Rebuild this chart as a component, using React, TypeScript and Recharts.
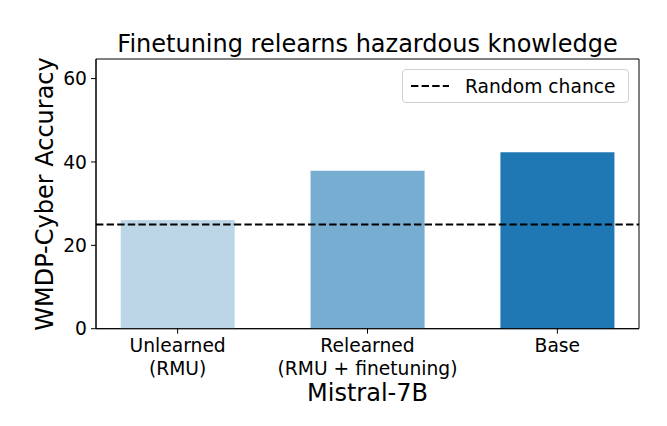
import { Bar, BarChart, Cell, Label, ReferenceArea, ReferenceLine, XAxis, YAxis } from 'recharts'

const categories = ['Unlearned\n(RMU)', 'Relearned\n(RMU + finetuning)', 'Base']
const accuracy = [26.1, 37.9, 42.3]
const barColors = ['#bcd6e8', '#78add2', '#1f77b4']
const randomChance = 25
const yTicks = [0, 20, 40, 60]

const FONT = "'DejaVu Sans', sans-serif"
const X_MIN = -0.43
const X_MAX = 2.43
const Y_MAX = 64.7

const data = categories.map((name, i) => ({ x: i, name, accuracy: accuracy[i] }))

function CategoryTick(props: any) {
  const { x, y, payload } = props
  const lines = String(categories[payload.value] ?? '').split('\n')
  return (
    <text x={x} y={y} textAnchor="middle" fontFamily={FONT} fontSize={18.7} fill="#000">
      {lines.map((line, i) => (
        <tspan key={i} x={x} dy={i === 0 ? 13.3 : 23}>{line}</tspan>
      ))}
    </text>
  )
}

function ChanceLegend() {
  return (
    <div style={{
      position: 'absolute', left: 402, top: 69,
      width: 225, height: 32, border: '1px solid #d0d0d0', borderRadius: 4,
      background: '#fff', display: 'flex', alignItems: 'center', boxSizing: 'content-box',
    }}>
      <svg width={60} height={32}>
        <line x1={8} x2={46} y1={16} y2={16} stroke="#000" strokeWidth={2} strokeDasharray="7.4 3.2" />
      </svg>
      <span style={{ fontFamily: FONT, fontSize: 18.7, color: '#000', marginLeft: 2 }}>Random chance</span>
    </div>
  )
}

export default function App() {
  return (
    <div style={{ position: 'absolute', left: 0, top: 0, width: 667, height: 426, background: '#fff' }}>
      <BarChart
        width={667}
        height={426}
        data={data}
        margin={{ top: 59, right: 28, bottom: 0, left: 0 }}
      >
        <XAxis
          dataKey="x"
          type="number"
          domain={[X_MIN, X_MAX]}
          ticks={[0, 1, 2]}
          allowDataOverflow
          height={97.3}
          tickSize={5}
          tickMargin={5}
          tick={<CategoryTick />}
          stroke="#000"
          axisLine={{ stroke: '#000', strokeWidth: 1 }}
          tickLine={{ stroke: '#000', strokeWidth: 1 }}
        >
          <Label
            content={() => (
              <text x={367.5} y={401} textAnchor="middle" fontFamily={FONT} fontSize={24} fill="#000">
                Mistral-7B
              </text>
            )}
          />
        </XAxis>
        <YAxis
          type="number"
          domain={[0, Y_MAX]}
          ticks={yTicks}
          allowDataOverflow
          width={96}
          tickSize={5}
          tickMargin={4}
          tick={{ fontFamily: FONT, fontSize: 18.7, fill: '#000' }}
          axisLine={{ stroke: '#000', strokeWidth: 1 }}
          tickLine={{ stroke: '#000', strokeWidth: 1 }}
        >
          <Label
            content={() => (
              <text x={53} y={194} transform="rotate(-90 53 194)" textAnchor="middle" fontFamily={FONT} fontSize={24} fill="#000">
                WMDP-Cyber Accuracy
              </text>
            )}
          />
        </YAxis>
        <Bar dataKey="accuracy" barSize={114} isAnimationActive={false}>
          {data.map((d, i) => (
            <Cell key={d.name} fill={barColors[i]} />
          ))}
        </Bar>
        <ReferenceLine y={randomChance} stroke="#000" strokeWidth={2} strokeDasharray="7.4 3.2" ifOverflow="visible" />
        <ReferenceArea x1={X_MIN} x2={X_MAX} y1={0} y2={Y_MAX} fill="none" stroke="#000" strokeWidth={1} ifOverflow="visible" />
      </BarChart>
      <div style={{
        position: 'absolute', left: 96, top: 31.7, width: 543, textAlign: 'center',
        fontFamily: FONT, fontSize: 24, lineHeight: '24px', color: '#000', whiteSpace: 'nowrap',
      }}>
        Finetuning relearns hazardous knowledge
      </div>
      <ChanceLegend />
    </div>
  )
}
